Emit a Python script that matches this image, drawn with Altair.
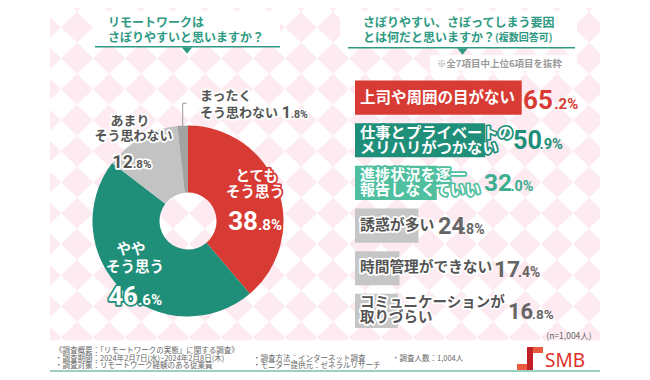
import math
import altair as alt
import numpy as np
import pandas as pd

# ---------------- data ----------------
pie_categories = ["とてもそう思う", "ややそう思う", "あまりそう思わない", "まったくそう思わない"]
pie_line1 = ["とても", "やや", "あまり", "まったく"]
pie_line2 = ["そう思う", "そう思う", "そう思わない", "そう思わない"]
pie_values = [38.8, 46.6, 12.8, 1.8]

bar_categories = [
    "上司や周囲の目がない",
    "仕事とプライベートの\nメリハリがつかない",
    "進捗状況を逐一\n報告しなくていい",
    "誘惑が多い",
    "時間管理ができない",
    "コミュニケーションが\n取りづらい",
]
bar_values = [65.2, 50.9, 32.0, 24.8, 17.4, 16.8]

title_left = ["リモートワークは", "さぼりやすいと思いますか？"]
title_right = ["さぼりやすい、さぼってしまう要因", "とは何だと思いますか？", "(複数回答可)"]
note_text = "※全7項目中上位6項目を抜粋"
sample_text = "(n=1,004人)"
footer_col1 = ["《調査概要：「リモートワークの実態」に関する調査》",
               "・調査期間：2024年2月7日(水)~2024年2月8日(木)",
               "・調査対象：リモートワーク経験のある従業員"]
footer_col2 = ["・調査方法：インターネット調査", "・モニター提供元：ゼネラルリサーチ"]
footer_col3 = ["・調査人数：1,004人"]
brand = "SMB"

# ---------------- style ----------------
W, H = 634, 364
OX, OY = 8, 8
def X(v): return v - OX
def Y(v): return v - OY

JP = "Noto Sans CJK JP"
NUM = "Roboto"
DIGIT_W = 0.6
RED = "#d73b33"
GREEN = "#1f8f79"
TEAL = "#4fbf9f"
TEAL_TXT = "#3aae8e"
HEAD = "#2e9a83"
TXT = "#555555"
PINK = "#fdebf1"
PIE_COLORS = [RED, GREEN, "#c3c3c3", "#a3a3a3"]
BAR_COLORS = [RED, GREEN, TEAL, "#c6c6c6", "#c6c6c6", "#c6c6c6"]
VAL_COLORS = [RED, GREEN, TEAL_TXT, "#666666", "#666666", "#666666"]
OUTLINE_COLORS = [RED, GREEN, TEAL, "white", "white", "white"]
LABEL_FILLS = ["white", "white", "white", TXT, TXT, TXT]
LABEL_SIZES = [15.5, 14.5, 14.5, 14, 14, 14]
INT_SIZES = [26, 22, 22, 20, 20, 20]
DEC_SIZES = [15, 13.5, 13.5, 12.5, 12.5, 12.5]

one = pd.DataFrame({"k": [0]})
layers = []

def rect(x1, y1, x2, y2, color):
    return alt.Chart(one).mark_rect(color=color).encode(
        x=alt.value(X(x1)), x2=alt.value(X(x2)), y=alt.value(Y(y1)), y2=alt.value(Y(y2)))

def rule(x1, y1, x2, y2, color, w=1.0):
    return alt.Chart(one).mark_rule(color=color, strokeWidth=w).encode(
        x=alt.value(X(x1)), x2=alt.value(X(x2)), y=alt.value(Y(y1)), y2=alt.value(Y(y2)))

def label(text, x, y, size, color, align="left", weight="normal", font=JP, baseline="middle"):
    return alt.Chart(one).mark_text(text=text, align=align, baseline=baseline, fontSize=size,
                                    fontWeight=weight, color=color, font=font).encode(
        x=alt.value(X(x)), y=alt.value(Y(y)))

# ---------------- background pattern ----------------
pat_w, pat_h = 32, 31
xs = np.arange(77 - 3 * pat_w, 630, pat_w)
ys = np.arange(27.2 - 2 * pat_h, 370, pat_h)
grid = pd.DataFrame([(X(a), Y(b)) for a in xs for b in ys], columns=["px", "py"])
layers.append(alt.Chart(grid).mark_point(
    shape="M0,-0.97L1,0L0,0.97L-1,0Z", size=pat_w ** 2, filled=True, color=PINK,
    opacity=1, strokeWidth=0).encode(
    x=alt.X("px:Q", scale=None, axis=None), y=alt.Y("py:Q", scale=None, axis=None)))
layers += [rect(0, 0, 50, 380, "white"), rect(600, 0, 650, 380, "white"),
           rect(0, 340.5, 650, 380, "white")]

# ---------------- headers ----------------
layers += [rect(93, 12, 280, 46.5, "white"), rect(340, 12, 577, 47.5, "white"),
           rect(430, 55, 577, 71, "white")]
layers += [rule(95, 46.7, 280, 46.7, HEAD, 1.5), rule(348, 47.7, 575, 47.7, HEAD, 1.5)]
tri = pd.DataFrame({"tx": [X(187), X(462.5)], "ty": [Y(50.5), Y(51.5)]})
layers.append(alt.Chart(tri).mark_point(shape="M-1,-0.6L1,-0.6L0,0.6Z", size=110, filled=True,
                                        color=HEAD, opacity=1).encode(
    x=alt.X("tx:Q", scale=None, axis=None), y=alt.Y("ty:Q", scale=None, axis=None)))
layers += [label(title_left[0], 108, 22.5, 12, HEAD, weight="bold"),
           label(title_left[1], 108, 37.5, 12, HEAD, weight="bold"),
           label(title_right[0], 363, 22.5, 12, HEAD, weight="bold"),
           label(title_right[1], 363, 37.5, 12, HEAD, weight="bold"),
           label(title_right[2], 495, 38, 10, HEAD, weight="bold"),
           label(note_text, 562, 63.5, 9.5, "#9a9a9a", align="right", weight="bold")]

# ---------------- donut ----------------
pie_df = pd.DataFrame({"cat": pie_categories, "value": pie_values, "l1": pie_line1, "l2": pie_line2})
pie_df["end"] = pie_df["value"].cumsum()
pie_df["start"] = pie_df["end"] - pie_df["value"]
pie_df["mid"] = (pie_df["start"] + pie_df["end"]) / 2
pie_df["ip"] = [f"{v:.1f}".split(".")[0] for v in pie_values]
pie_df["dp"] = ["." + f"{v:.1f}".split(".")[1] + "%" for v in pie_values]
theta_scale = alt.Scale(domain=[0, 100], range=[0, 2 * math.pi])
PCX, PCY = 188, 221
layers.append(alt.Chart(pie_df).mark_arc(radius=95.5, radius2=28.5).encode(
    theta=alt.Theta("start:Q", scale=theta_scale), theta2="end:Q",
    color=alt.Color("cat:N", scale=alt.Scale(domain=pie_categories, range=PIE_COLORS), legend=None),
    x=alt.value(X(PCX)), y=alt.value(Y(PCY))))

def pie_text(cat, field, R, tx, ty, size, fill, align="center", baseline="middle",
             weight="bold", font=JP, stroke=None, sw=0):
    row = pie_df[pie_df["cat"] == cat].iloc[0]
    ang = row["mid"] / 100 * 2 * math.pi
    ax = PCX + R * math.sin(ang)
    ay = PCY - R * math.cos(ang)
    kw = {}
    if stroke:
        kw = dict(stroke=stroke, strokeWidth=sw, strokeJoin="round")
    return alt.Chart(pie_df).transform_filter(alt.datum.cat == cat).mark_text(
        radius=R, dx=tx - ax, dy=ty - ay, align=align, baseline=baseline, fontSize=size,
        fontWeight=weight, font=font, fill=fill, **kw).encode(
        theta=alt.Theta("mid:Q", scale=theta_scale), text=f"{field}:N",
        x=alt.value(X(PCX)), y=alt.value(Y(PCY)))

pie_specs = [
    (pie_categories[0], 70, RED, "white", [
        ("l1", 256.7, 176.5, 14.5, "center", "middle", JP),
        ("l2", 255, 193, 14.5, "center", "middle", JP),
        ("ip", 258, 230, 26, "right", "alphabetic", NUM),
        ("dp", 258, 230, 15, "left", "alphabetic", NUM)]),
    (pie_categories[1], 70, GREEN, "white", [
        ("l1", 131, 250, 14.5, "center", "middle", JP),
        ("l2", 135, 268, 14.5, "center", "middle", JP),
        ("ip", 138, 305, 26, "right", "alphabetic", NUM),
        ("dp", 138, 305, 15, "left", "alphabetic", NUM)]),
    (pie_categories[2], 100, "white", TXT, [
        ("l1", 130, 121, 13, "center", "middle", JP),
        ("l2", 133.5, 136, 13, "center", "middle", JP),
        ("ip", 133, 168, 18, "right", "alphabetic", NUM),
        ("dp", 133, 168, 11.5, "left", "alphabetic", NUM)]),
    (pie_categories[3], 115, "white", TXT, [
        ("l1", 200, 96, 13, "left", "middle", JP),
        ("l2", 200, 113.3, 13, "left", "middle", JP),
        ("ip", 291, 118.3, 16, "right", "alphabetic", NUM),
        ("dp", 291, 118.3, 10.5, "left", "alphabetic", NUM)]),
]
for cat, R, outline, fillc, items in pie_specs:
    for field, tx, ty, size, align, base, font in items:
        layers.append(pie_text(cat, field, R, tx, ty, size, outline, align, base,
                               font=font, stroke=outline, sw=3.5))
        layers.append(pie_text(cat, field, R, tx, ty, size, fillc, align, base, font=font))

layers += [rule(182.7, 103.3, 182.7, 127, "#9a9a9a"), rule(182.7, 103.3, 186.5, 103.3, "#9a9a9a")]

# ---------------- bars ----------------
bar_df = pd.DataFrame({"cat": bar_categories, "value": bar_values})
bar_df["ip"] = [f"{v:.1f}".split(".")[0] for v in bar_values]
bar_df["dp"] = ["." + f"{v:.1f}".split(".")[1] + "%" for v in bar_values]
maxlen = [max(len(s) for s in c.split("\n")) for c in bar_categories]
LABEL_X = 360
bar_df["vx"] = [X(LABEL_X + m * s + 8) for m, s in zip(maxlen, LABEL_SIZES)]
bar_df["sx"] = [vx + len(ip) * isz * DIGIT_W for vx, ip, isz in zip(bar_df["vx"], bar_df["ip"], INT_SIZES)]

y_enc = alt.Y("cat:N", sort=bar_categories, axis=None,
              scale=alt.Scale(range=[Y(80.5), Y(328)], paddingInner=0.2, paddingOuter=0))
x_enc = alt.X("value:Q", axis=None,
              scale=alt.Scale(domain=[0, 100], range=[X(355), X(355) + 255.7]))
cat_scale = lambda rng: alt.Scale(domain=bar_categories, range=rng)

layers.append(alt.Chart(bar_df).mark_bar().encode(
    x=x_enc, y=y_enc, color=alt.Color("cat:N", scale=cat_scale(BAR_COLORS), legend=None)))

single = [c for c in bar_categories if "\n" not in c]
double = [c for c in bar_categories if "\n" in c]
LH = 15
for group, dyv in [(single, 0), (double, -LH / 2)]:
    pred = alt.FieldOneOfPredicate(field="cat", oneOf=group)
    layers.append(alt.Chart(bar_df).transform_filter(pred).mark_text(
        align="left", baseline="middle", font=JP, fontWeight="bold", lineBreak="\n", lineHeight=LH,
        dy=dyv, strokeWidth=3.5, strokeJoin="round").encode(
        x=alt.value(X(LABEL_X)), y=y_enc, text="cat:N",
        fill=alt.Fill("cat:N", scale=cat_scale(OUTLINE_COLORS), legend=None),
        stroke=alt.Stroke("cat:N", scale=cat_scale(OUTLINE_COLORS), legend=None),
        size=alt.Size("cat:N", scale=cat_scale(LABEL_SIZES), legend=None)))
    layers.append(alt.Chart(bar_df).transform_filter(pred).mark_text(
        align="left", baseline="middle", font=JP, fontWeight="bold", lineBreak="\n", lineHeight=LH,
        dy=dyv).encode(
        x=alt.value(X(LABEL_X)), y=y_enc, text="cat:N",
        fill=alt.Fill("cat:N", scale=cat_scale(LABEL_FILLS), legend=None),
        size=alt.Size("cat:N", scale=cat_scale(LABEL_SIZES), legend=None)))

for rows, dyv in [([0], 11.3), ([1, 2, 3, 4, 5], 8.5)]:
    cats = [bar_categories[i] for i in rows]
    for field, xf, sizes in [("ip", "vx", INT_SIZES), ("dp", "sx", DEC_SIZES)]:
        layers.append(alt.Chart(bar_df).transform_filter(
            alt.FieldOneOfPredicate(field="cat", oneOf=cats)).mark_text(
            align="left", baseline="alphabetic", dy=dyv, font=NUM, fontWeight="bold").encode(
            x=alt.X(f"{xf}:Q", scale=None, axis=None), y=y_enc, text=f"{field}:N",
            fill=alt.Fill("cat:N", scale=cat_scale(VAL_COLORS), legend=None),
            size=alt.Size("cat:N", scale=cat_scale(sizes), legend=None)))

# ---------------- footer ----------------
layers.append(label(sample_text, 591.7, 335.5, 8.5, "#666666", align="right"))
for i, t in enumerate(footer_col1):
    layers.append(label(t, 55, 351 + i * 7.7, 7.5, "#666666"))
for i, t in enumerate(footer_col2):
    layers.append(label(t, 253, 358.7 + i * 7.7, 7.5, "#666666"))
for i, t in enumerate(footer_col3):
    layers.append(label(t, 392, 358.7 + i * 7.7, 7.5, "#666666"))
layers.append(rule(50, 371, 600, 371, "#3a9e85", 1))

# logo
layers += [rect(527, 347, 543, 353, "#ea5a3f"), rect(517, 364, 533, 370, "#ea5a3f"),
           rect(527, 347, 533, 370, "#c21f26")]
layers.append(label(brand, 545, 360.5, 19, "#e0302a", font="Noto Sans"))

chart = alt.layer(*layers).resolve_scale(
    color="independent", fill="independent", stroke="independent", size="independent"
).properties(
    width=W, height=H, autosize=alt.AutoSizeParams(type="none"), padding=0, background="white"
).configure_view(strokeWidth=0)

chart.save("out.html", embed_options={"renderer": "svg", "actions": False})
